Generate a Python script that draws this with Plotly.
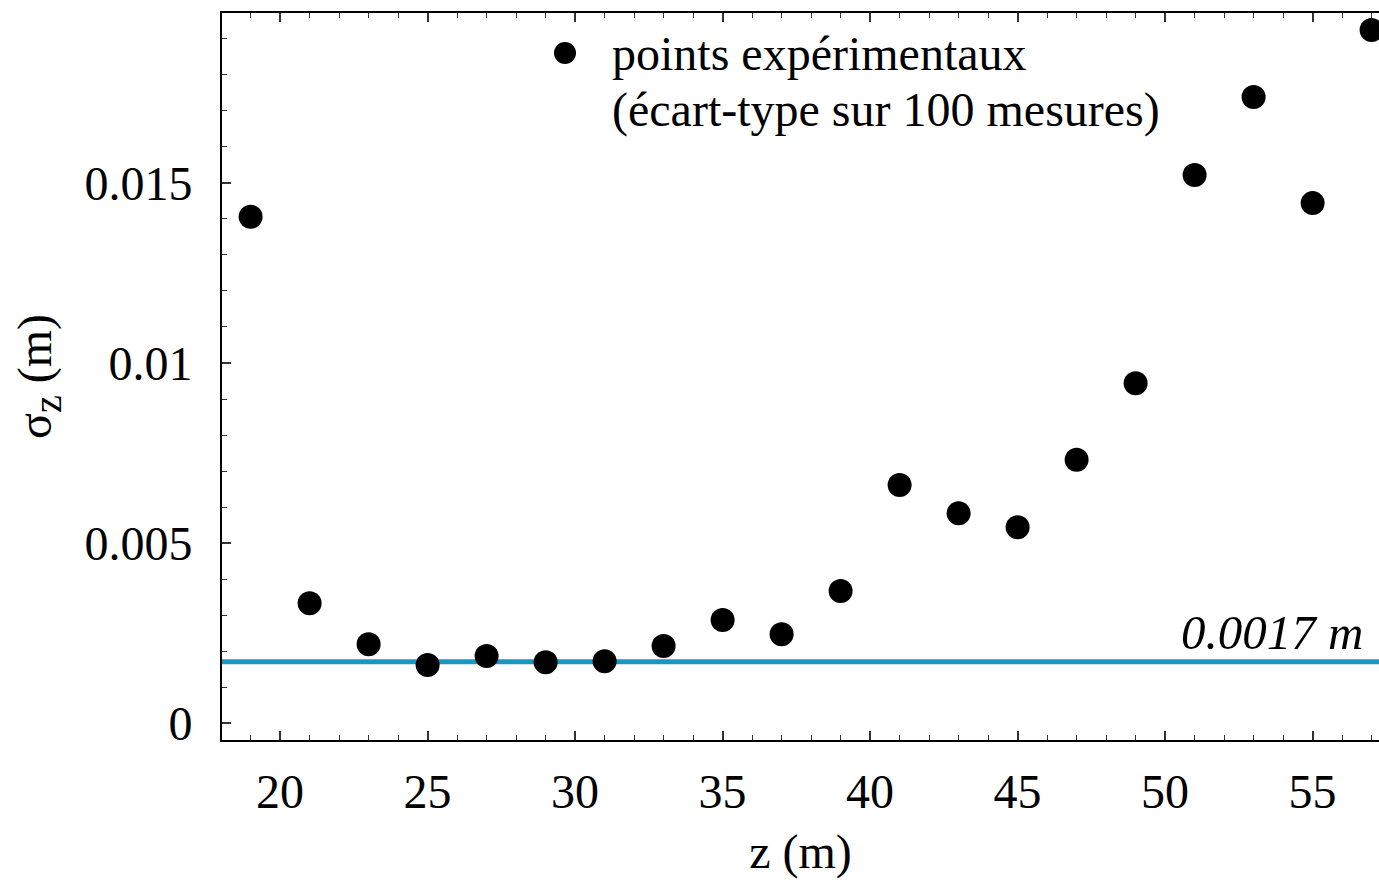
import plotly.graph_objects as go

z_vals = [19, 21, 23, 25, 27, 29, 31, 33, 35, 37, 39, 41, 43, 45, 47, 49, 51, 53, 55, 57]
sigma_vals = [0.01406, 0.00333, 0.00219, 0.00161, 0.00186, 0.00169, 0.00172, 0.00214,
              0.00286, 0.00247, 0.00367, 0.00661, 0.00583, 0.00544, 0.00731, 0.00944,
              0.01522, 0.01739, 0.01444, 0.01925]
ref_level = 0.0017
ref_label = "0.0017 m"
legend_lines = ["points expérimentaux", "(écart-type sur 100 mesures)"]
y_tickvals = [0, 0.005, 0.01, 0.015]
y_ticktext = ["0", "0.005", "0.01", "0.015"]
x_tickvals = [20, 25, 30, 35, 40, 45, 50, 55]

FONT = "Liberation Serif"
x_range = [18.03, 57.25]
y_range = [-0.00047, 0.01972]

L, R, T, B, W, H = 222, 0, 13, 140, 1379, 880
pw, ph = W - L - R, H - T - B


def px(xp):
    return (xp - L) / pw


def py(yp):
    return (H - B - yp) / ph


fig = go.Figure()
fig.add_trace(go.Scatter(
    x=x_range, y=[ref_level, ref_level], mode="lines",
    line=dict(color="#1a97c0", width=5), showlegend=False, hoverinfo="skip"))
fig.add_trace(go.Scatter(
    x=z_vals, y=sigma_vals, mode="markers",
    marker=dict(color="black", size=24),
    name=" ".join(legend_lines), showlegend=False))

fig.add_annotation(x=x_range[1], y=ref_level, xref="x", yref="y",
                   text=ref_label, showarrow=False, xanchor="right", yanchor="bottom",
                   xshift=-14, yshift=0,
                   font=dict(family=FONT, size=49, color="black", style="italic"))

# legend (marker + two text lines)
fig.add_shape(type="circle", xref="paper", yref="paper", xsizemode="pixel", ysizemode="pixel",
              xanchor=px(565), yanchor=py(53), x0=-11, x1=11, y0=-11, y1=11,
              fillcolor="black", line=dict(width=0))
for i, t in enumerate(legend_lines):
    fig.add_annotation(x=px(610), y=py(53 + 57 * i), xref="paper", yref="paper",
                       text=t, showarrow=False, xanchor="left", yanchor="middle",
                       font=dict(family=FONT, size=48, color="black"))

fig.update_layout(
    width=W, height=H,
    margin=dict(l=L, r=R, t=T, b=B),
    paper_bgcolor="white", plot_bgcolor="white",
    font=dict(family=FONT, color="black"),
    showlegend=False,
    xaxis=dict(range=x_range, tickvals=x_tickvals, ticks="inside", ticklen=9, tickwidth=1.5,
               tickcolor="#333", showline=True, linecolor="black", linewidth=2,
               mirror="ticks", showgrid=False, zeroline=False,
               tickfont=dict(family=FONT, size=48, color="black"),
               ticklabelstandoff=8,
               minor=dict(dtick=1, ticks="inside", ticklen=5, tickcolor="#333", tickwidth=1.2, showgrid=False),
               title=dict(text="z (m)", font=dict(family=FONT, size=48, color="black"), standoff=18)),
    yaxis=dict(range=y_range, tickvals=y_tickvals, ticktext=y_ticktext, ticks="inside",
               ticklen=9, tickwidth=1.5, tickcolor="#333", showline=True, linecolor="black",
               linewidth=2, mirror=False, showgrid=False, zeroline=False,
               tickfont=dict(family=FONT, size=48, color="black"),
               ticklabelstandoff=18,
               minor=dict(dtick=0.001, ticks="inside", ticklen=5, tickcolor="#333", tickwidth=1.2, showgrid=False),
               title=dict(text="σ<sub><span style='font-size:40px'>z</span></sub> (m)",
                          font=dict(family=FONT, size=48, color="black"), standoff=18)),
)

fig.write_html("out.html")
